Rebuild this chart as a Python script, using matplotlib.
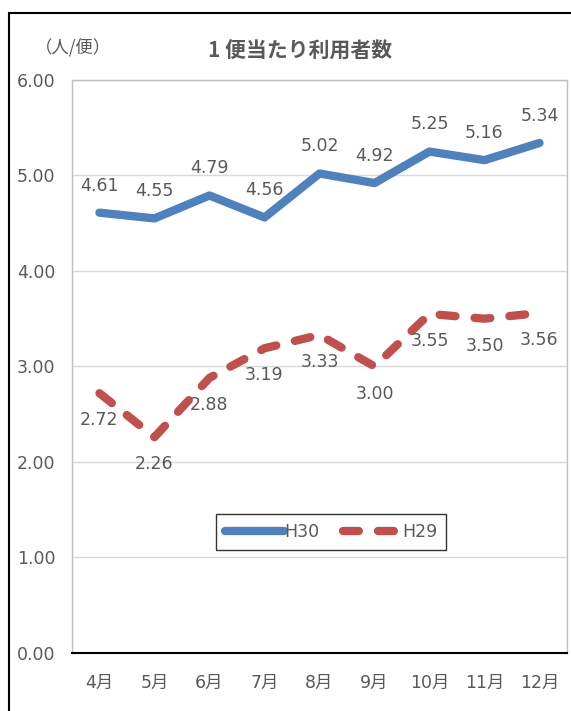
import matplotlib
matplotlib.use("Agg")
import matplotlib.pyplot as plt
from matplotlib.patches import Rectangle

plt.rcParams['font.family'] = ['DejaVu Sans', 'Noto Sans CJK JP']

# data
months = ["4月", "5月", "6月", "7月", "8月", "9月", "10月", "11月", "12月"]
h30 = [4.61, 4.55, 4.79, 4.56, 5.02, 4.92, 5.25, 5.16, 5.34]
h29 = [2.72, 2.26, 2.88, 3.19, 3.33, 3.00, 3.55, 3.50, 3.56]

BLUE = "#4F81BD"
RED = "#C0504D"
GRAY = "#595959"

fig = plt.figure(figsize=(5.71, 7.11), dpi=100)
ax = fig.add_axes([0.126, 0.0816, 0.867, 0.806])

x = list(range(len(months)))
ax.plot(x, h30, color=BLUE, lw=6, solid_capstyle="round", solid_joinstyle="round", label="H30")
ax.plot(x, h29, color=RED, lw=6, dashes=(1.9, 2.3), dash_capstyle="round", label="H29")

for xi, v in zip(x, h30):
    ax.annotate(f"{v:.2f}", (xi, v), xytext=(0, 13), textcoords="offset points",
                ha="center", va="bottom", fontsize=12.5, color=GRAY)
for xi, v in zip(x, h29):
    ax.annotate(f"{v:.2f}", (xi, v), xytext=(0, -13), textcoords="offset points",
                ha="center", va="top", fontsize=12.5, color=GRAY)

ax.set_xlim(-0.5, len(months) - 0.5)
ax.set_ylim(0, 6)
ax.set_yticks([0, 1, 2, 3, 4, 5, 6])
ax.set_yticklabels([f"{t:.2f}" for t in range(7)])
ax.set_xticks(x)
ax.set_xticklabels(months)
ax.tick_params(axis="both", length=0, labelsize=12.5, colors=GRAY)
ax.tick_params(axis="y", pad=12)
ax.tick_params(axis="x", pad=15)
ax.grid(axis="y", color="#D9D9D9", lw=1)
ax.set_axisbelow(True)
for s in ["top", "right", "left"]:
    ax.spines[s].set_color("#BFBFBF")
    ax.spines[s].set_linewidth(1)
ax.spines["bottom"].set_color("black")
ax.spines["bottom"].set_linewidth(1.5)

leg = ax.legend(loc="center", bbox_to_anchor=(0.524, 0.211), ncol=2, fontsize=12.5,
                frameon=True, fancybox=False, edgecolor="black", handlelength=3.4,
                handletextpad=0.0, columnspacing=1.4, borderpad=0.5)
leg.get_frame().set_linewidth(1)
for t in leg.get_texts():
    t.set_color(GRAY)

fig.text(0.525, 0.930, "1 便当たり利用者数", ha="center", va="center",
         fontsize=15, fontweight="bold", color=GRAY,
         family=['Noto Sans CJK JP', 'DejaVu Sans'])
fig.text(0.127, 0.932, "（人/便）", ha="center", va="center", fontsize=12.5, color=GRAY,
         family=['Noto Sans CJK JP', 'DejaVu Sans'])

# outer chart frame (cut off at right and bottom)
fig.patches.append(Rectangle((9 / 571, -0.1), 1.2, 0.1 + 1 - 13 / 711,
                             transform=fig.transFigure, fill=False,
                             edgecolor="black", lw=1.5))

fig.savefig("out.png", dpi=100)
